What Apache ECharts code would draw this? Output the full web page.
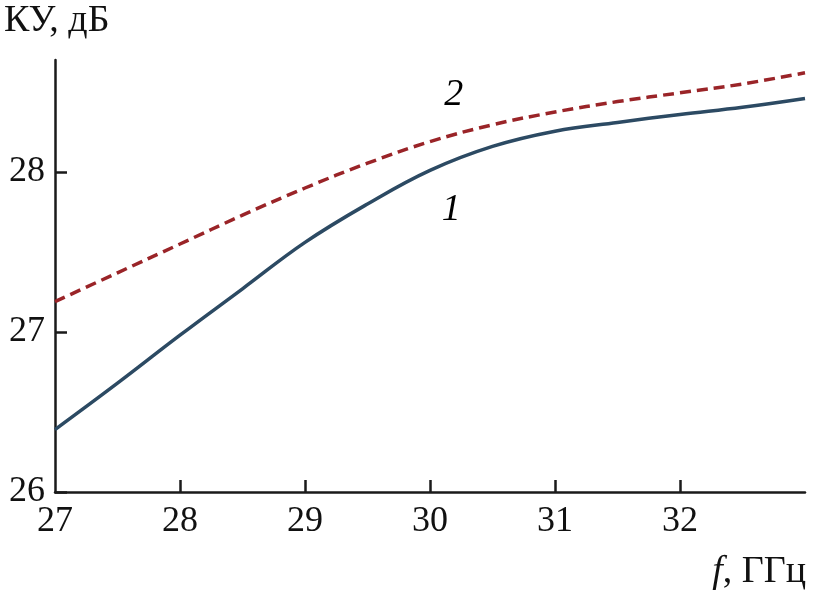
<!DOCTYPE html>
<html><head><meta charset="utf-8">
<script src="https://cdn.jsdelivr.net/npm/echarts@6/dist/echarts.min.js"></script>
<style>html,body{margin:0;padding:0;background:#fff}#c{width:816px;height:602px}</style>
</head><body><div id="c"></div>
<script>
const freq = [27, 27.5, 28, 28.5, 29, 29.5, 30, 30.5, 31, 31.5, 32, 32.5, 33];
const ku1  = [26.39, 26.68, 26.98, 27.27, 27.56, 27.80, 28.01, 28.16, 28.255, 28.31, 28.36, 28.405, 28.46];
const ku2  = [27.19, 27.37, 27.55, 27.73, 27.90, 28.055, 28.19, 28.295, 28.375, 28.44, 28.495, 28.55, 28.62];
const xTicks = [27, 28, 29, 30, 31, 32];
const yTicks = [26, 27, 28];
const curveLabels = [{name: '1', f: 30.17, v: 27.76}, {name: '2', f: 30.19, v: 28.48}];

const font = '"Liberation Serif", "Times New Roman", serif';
const chart = echarts.init(document.getElementById('c'), null, {renderer: 'canvas'});
chart.setOption({
  animation: false,
  backgroundColor: '#fff',
  grid: {left: 55, right: 11, top: 60, bottom: 110, containLabel: false},
  xAxis: {
    type: 'value', min: 27, max: 33, interval: 1,
    axisLine: {lineStyle: {color: '#1a1a1a', width: 2.5}},
    axisTick: {inside: true, length: 12, lineStyle: {color: '#1a1a1a', width: 2.5}, customValues: xTicks.slice(1)},
    axisLabel: {color: '#111', fontFamily: font, fontSize: 36, margin: 12, customValues: xTicks},
    splitLine: {show: false}
  },
  yAxis: {
    type: 'value', min: 26, max: 28.7, interval: 1,
    axisLine: {show: true, lineStyle: {color: '#1a1a1a', width: 2.5}},
    axisTick: {show: true, inside: true, length: 12, lineStyle: {color: '#1a1a1a', width: 2.5}, customValues: yTicks},
    axisLabel: {color: '#111', fontFamily: font, fontSize: 36, margin: 10, customValues: yTicks},
    splitLine: {show: false}
  },
  graphic: [
    {type: 'text', left: 4, top: 2, style: {text: 'КУ, дБ', fontFamily: font, fontSize: 38, fill: '#111'}},
    {type: 'text', right: 10, top: 553, style: {
      text: '{i|f}, ГГц', fontFamily: font, fontSize: 38, fill: '#111',
      rich: {i: {fontStyle: 'italic', fontFamily: font, fontSize: 38, fill: '#111'}}
    }}
  ],
  series: [
    {
      type: 'line', smooth: 0.4, symbol: 'none',
      data: freq.map((f, i) => [f, ku1[i]]),
      lineStyle: {color: '#2c4a63', width: 3.5}
    },
    {
      type: 'line', smooth: 0.4, symbol: 'none',
      data: freq.map((f, i) => [f, ku2[i]]),
      lineStyle: {color: '#9a2428', width: 3.5, type: [11, 6]}
    },
    {
      type: 'scatter', symbolSize: 1, itemStyle: {color: 'rgba(0,0,0,0)', opacity: 1},
      data: curveLabels.map(d => ({name: d.name, value: [d.f, d.v]})),
      label: {show: true, position: 'inside', formatter: p => p.name,
        fontFamily: font, fontStyle: 'italic', fontSize: 38, color: '#000', textBorderWidth: 0},
      silent: true
    }
  ]
});
</script></body></html>
